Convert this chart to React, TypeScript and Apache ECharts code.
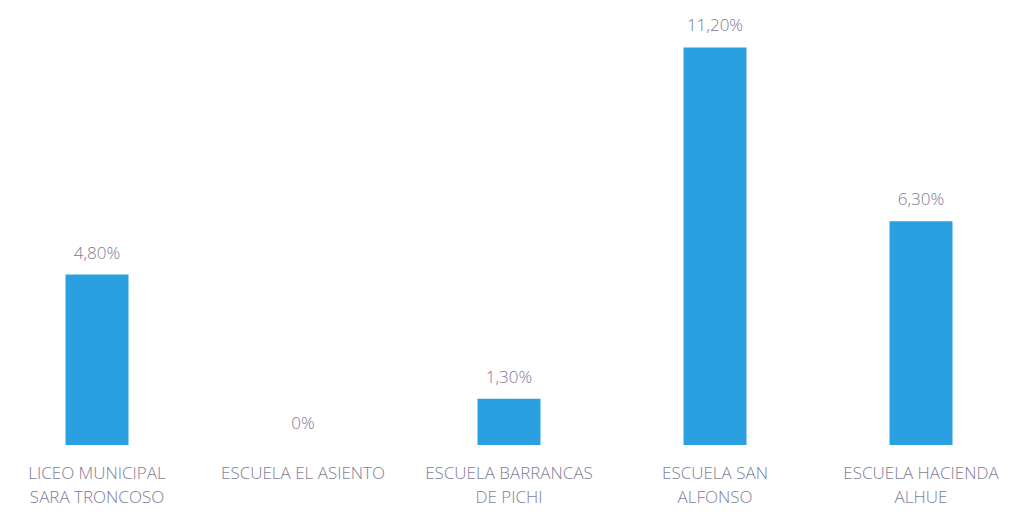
import React, { useEffect, useRef } from "react";
import * as echarts from "echarts";

const categories = [
  "LICEO MUNICIPAL\nSARA TRONCOSO",
  "ESCUELA EL ASIENTO",
  "ESCUELA BARRANCAS\nDE PICHI",
  "ESCUELA SAN\nALFONSO",
  "ESCUELA HACIENDA\nALHUE",
];
const values = [4.8, 0, 1.3, 11.2, 6.3];

const fmt = (v: number) => (v === 0 ? "0%" : v.toFixed(2).replace(".", ",") + "%");

export default function App() {
  const ref = useRef<HTMLDivElement>(null);
  useEffect(() => {
    if (!ref.current) return;
    const chart = echarts.init(ref.current, undefined, { renderer: "svg" });
    chart.setOption({
      animation: false,
      backgroundColor: "#ffffff",
      grid: { left: 0, right: 0, top: 19, bottom: 67, containLabel: false },
      xAxis: {
        type: "category",
        data: categories,
        axisLine: { show: false },
        axisTick: { show: false },
        axisLabel: {
          interval: 0,
          margin: 15,
          fontFamily: "Open Sans",
          fontWeight: 300,
          fontSize: 17,
          lineHeight: 24,
          color: "#7e7e96",
        },
      },
      yAxis: {
        type: "value",
        min: 0,
        max: 12,
        show: false,
        splitLine: { show: false },
      },
      series: [
        {
          type: "bar",
          data: values,
          barWidth: 63,
          itemStyle: { color: "#2aa0e0" },
          label: {
            show: true,
            position: "top",
            distance: 14,
            formatter: (p: any) => fmt(p.value),
            fontFamily: "Open Sans",
            fontWeight: 300,
            fontSize: 17,
            color: "#7a7a92",
          },
        },
      ],
    });
    return () => chart.dispose();
  }, []);
  return (
    <div
      ref={ref}
      style={{ position: "absolute", left: -6, top: 0, width: 1030, height: 512 }}
    />
  );
}
